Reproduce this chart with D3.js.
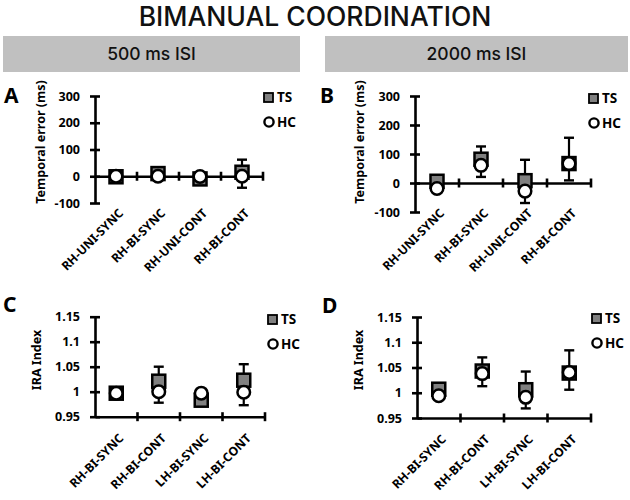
<!DOCTYPE html>
<html><head><meta charset="utf-8">
<script src="https://cdn.jsdelivr.net/npm/d3@7"></script>
<style>
body{margin:0;background:#fff;}
svg{display:block;}
</style></head>
<body>
<svg id="chart" width="630" height="500"></svg>
<script>
// ---- data ----
const title = "BIMANUAL COORDINATION";
const headers = ["500 ms ISI", "2000 ms ISI"];
const catsTop = ["RH-UNI-SYNC", "RH-BI-SYNC", "RH-UNI-CONT", "RH-BI-CONT"];
const catsBottom = ["RH-BI-SYNC", "RH-BI-CONT", "LH-BI-SYNC", "LH-BI-CONT"];
const seriesNames = ["TS", "HC"];

const tsA = [-2, 10, -10, 15];
const hcA = [0, 0, -1, 0];
const tsErrA = [4, 5, 4, 47];
const hcErrA = [4, 4, 4, 43];

const tsB = [6, 82, 8, 67];
const hcB = [-19, 61, -28, 67];
const tsErrB = [6, 44, 72, 89];
const hcErrB = [6, 40, 41, 58];

const tsC = [0.997, 1.021, 0.983, 1.023];
const hcC = [0.997, 1.0, 0.997, 0.999];
const tsErrC = [0.003, 0.029, 0.003, 0.032];
const hcErrC = [0.003, 0.022, 0.003, 0.026];

const tsD = [1.007, 1.043, 1.006, 1.039];
const hcD = [0.994, 1.038, 0.991, 1.040];
const tsErrD = [0.003, 0.027, 0.036, 0.045];
const hcErrD = [0.003, 0.025, 0.022, 0.034];

const ticksTemporal = [-100, 0, 100, 200, 300];
const ticksIRA = [0.95, 1, 1.05, 1.1, 1.15];
const tickLabelsIRA = ["0.95", "1", "1.05", "1.1", "1.15"];

// ---- drawing ----
const svg = d3.select("#chart");
const FONT = "'Noto Sans', 'Open Sans', sans-serif";
const HFONT = "Inter, Lato, sans-serif";

svg.append("text").attr("x", 315).attr("y", 26).attr("text-anchor", "middle")
  .attr("font-family", HFONT).attr("font-size", 26.5).attr("font-weight", 500)
  .attr("fill", "#111").text(title);

const headerBoxes = [[3, 300], [325, 628]];
headers.forEach((h, i) => {
  const [a, b] = headerBoxes[i];
  svg.append("rect").attr("x", a).attr("y", 36).attr("width", b - a).attr("height", 36).attr("fill", "#c0c0c0");
  svg.append("text").attr("x", (a + b) / 2).attr("y", 60).attr("text-anchor", "middle")
    .attr("font-family", HFONT).attr("font-size", 17.5).attr("font-weight", 500).attr("fill", "#111").text(h);
});

const panels = [
  {letter: "A", lx: 4, ly: 103, cats: catsTop, ts: tsA, hc: hcA, tsErr: tsErrA, hcErr: hcErrA,
   domain: [-100, 300], ticks: ticksTemporal, tickLabels: ticksTemporal.map(String),
   x0: 95, x1: 263, yTop: 96, yBot: 203, xAxisAtZero: true, labelY: 214,
   ylabel: "Temporal error (ms)", ylabX: 45, ylabY: 142, legX: 263, legY: 96},
  {letter: "B", lx: 320, ly: 103, cats: catsTop, ts: tsB, hc: hcB, tsErr: tsErrB, hcErr: hcErrB,
   domain: [-100, 300], ticks: ticksTemporal, tickLabels: ticksTemporal.map(String),
   x0: 415, x1: 591, yTop: 96, yBot: 212, xAxisAtZero: true, labelY: 214,
   ylabel: "Temporal error (ms)", ylabX: 364, ylabY: 142, legX: 588, legY: 97},
  {letter: "C", lx: 3, ly: 312, cats: catsBottom, ts: tsC, hc: hcC, tsErr: tsErrC, hcErr: hcErrC,
   domain: [0.95, 1.15], ticks: ticksIRA, tickLabels: tickLabelsIRA,
   x0: 95, x1: 265, yTop: 316.7, yBot: 416.7, xAxisAtZero: false, labelY: 439,
   ylabel: "IRA Index", ylabX: 41, ylabY: 360, legX: 267, legY: 318},
  {letter: "D", lx: 322, ly: 313, cats: catsBottom, ts: tsD, hc: hcD, tsErr: tsErrD, hcErr: hcErrD,
   domain: [0.95, 1.15], ticks: ticksIRA, tickLabels: tickLabelsIRA,
   x0: 417, x1: 591, yTop: 317, yBot: 418, xAxisAtZero: false, labelY: 440,
   ylabel: "IRA Index", ylabX: 363, ylabY: 360, legX: 591, legY: 317}
];

panels.forEach(p => {
  const g = svg.append("g");
  const x = d3.scaleBand().domain(p.cats).range([p.x0, p.x1]);
  const y = d3.scaleLinear().domain(p.domain).range([p.yBot, p.yTop]);
  const bw = x.bandwidth();

  g.append("text").attr("x", p.lx).attr("y", p.ly).attr("font-family", FONT)
    .attr("font-size", 21).attr("font-weight", 700).attr("fill", "#000").text(p.letter);

  g.append("text").attr("transform", `translate(${p.ylabX},${p.ylabY}) rotate(-90)`)
    .attr("text-anchor", "middle").attr("font-family", FONT).attr("font-size", 12.5)
    .attr("font-weight", 700).attr("fill", "#000").text(p.ylabel);

  const yAxis = d3.axisLeft(y).tickValues(p.ticks).tickSizeOuter(0).tickSizeInner(5)
    .tickPadding(10).tickFormat((d, i) => p.tickLabels[i]);
  const ya = g.append("g").attr("transform", `translate(${p.x0},0)`).call(yAxis);
  ya.select(".domain").attr("stroke", "#000").attr("stroke-width", 2.6);
  ya.selectAll(".tick line").attr("x1", 5).attr("x2", -5).attr("stroke", "#000").attr("stroke-width", 2.6);
  ya.selectAll(".tick text").attr("font-family", FONT).attr("font-size", 12.5)
    .attr("font-weight", 700).attr("fill", "#000");

  const axY = p.xAxisAtZero ? y(0) : p.yBot;
  const xAxis = d3.axisBottom(x).tickSizeOuter(0).tickSizeInner(0).tickFormat("");
  const xa = g.append("g").attr("transform", `translate(0,${axY})`).call(xAxis);
  xa.select(".domain").attr("stroke", "#000").attr("stroke-width", 2.6);
  xa.selectAll(".tick line").attr("x1", bw / 2).attr("x2", bw / 2).attr("y1", -4.5).attr("y2", 4.5)
    .attr("stroke", "#000").attr("stroke-width", 2.6);

  g.selectAll(".clab").data(p.cats).enter().append("text")
    .attr("transform", d => `translate(${x(d) + bw / 2 + 8},${p.labelY}) rotate(-45)`)
    .attr("text-anchor", "end").attr("font-family", FONT).attr("font-size", 12.2)
    .attr("font-weight", 700).attr("fill", "#000").text(d => d);

  const idx = d3.range(p.cats.length);
  const cx = i => x(p.cats[i]) + bw / 2;
  const capW = 5;
  idx.forEach(i => {
    const yt = y(p.ts[i] + p.tsErr[i]);
    g.append("line").attr("x1", cx(i)).attr("x2", cx(i)).attr("y1", y(p.ts[i])).attr("y2", yt)
      .attr("stroke", "#000").attr("stroke-width", 2.2);
    g.append("line").attr("x1", cx(i) - capW).attr("x2", cx(i) + capW).attr("y1", yt).attr("y2", yt)
      .attr("stroke", "#000").attr("stroke-width", 2.4);
    const yh = y(p.hc[i] - p.hcErr[i]);
    g.append("line").attr("x1", cx(i)).attr("x2", cx(i)).attr("y1", y(p.hc[i])).attr("y2", yh)
      .attr("stroke", "#000").attr("stroke-width", 2.2);
    g.append("line").attr("x1", cx(i) - capW).attr("x2", cx(i) + capW).attr("y1", yh).attr("y2", yh)
      .attr("stroke", "#000").attr("stroke-width", 2.4);
  });

  const sq = 13;
  g.selectAll(".ts").data(idx).enter().append("rect")
    .attr("x", i => cx(i) - sq / 2).attr("y", i => y(p.ts[i]) - sq / 2)
    .attr("width", sq).attr("height", sq)
    .attr("fill", "#808080").attr("stroke", "#000").attr("stroke-width", 2.5);
  g.selectAll(".hc").data(idx).enter().append("circle")
    .attr("cx", i => cx(i)).attr("cy", i => y(p.hc[i])).attr("r", 6.3)
    .attr("fill", "#fff").attr("stroke", "#000").attr("stroke-width", 2.5);

  g.append("rect").attr("x", p.legX + 1).attr("y", p.legY - 3).attr("width", 9).attr("height", 9)
    .attr("fill", "#808080").attr("stroke", "#000").attr("stroke-width", 1.8);
  g.append("text").attr("x", p.legX + 14).attr("y", p.legY + 6).attr("font-family", FONT)
    .attr("font-size", 13.5).attr("font-weight", 700).attr("fill", "#000").text(seriesNames[0]);
  g.append("circle").attr("cx", p.legX + 6).attr("cy", p.legY + 26).attr("r", 4.6)
    .attr("fill", "#fff").attr("stroke", "#000").attr("stroke-width", 2.4);
  g.append("text").attr("x", p.legX + 14).attr("y", p.legY + 31).attr("font-family", FONT)
    .attr("font-size", 13.5).attr("font-weight", 700).attr("fill", "#000").text(seriesNames[1]);
});
</script>
</body></html>
